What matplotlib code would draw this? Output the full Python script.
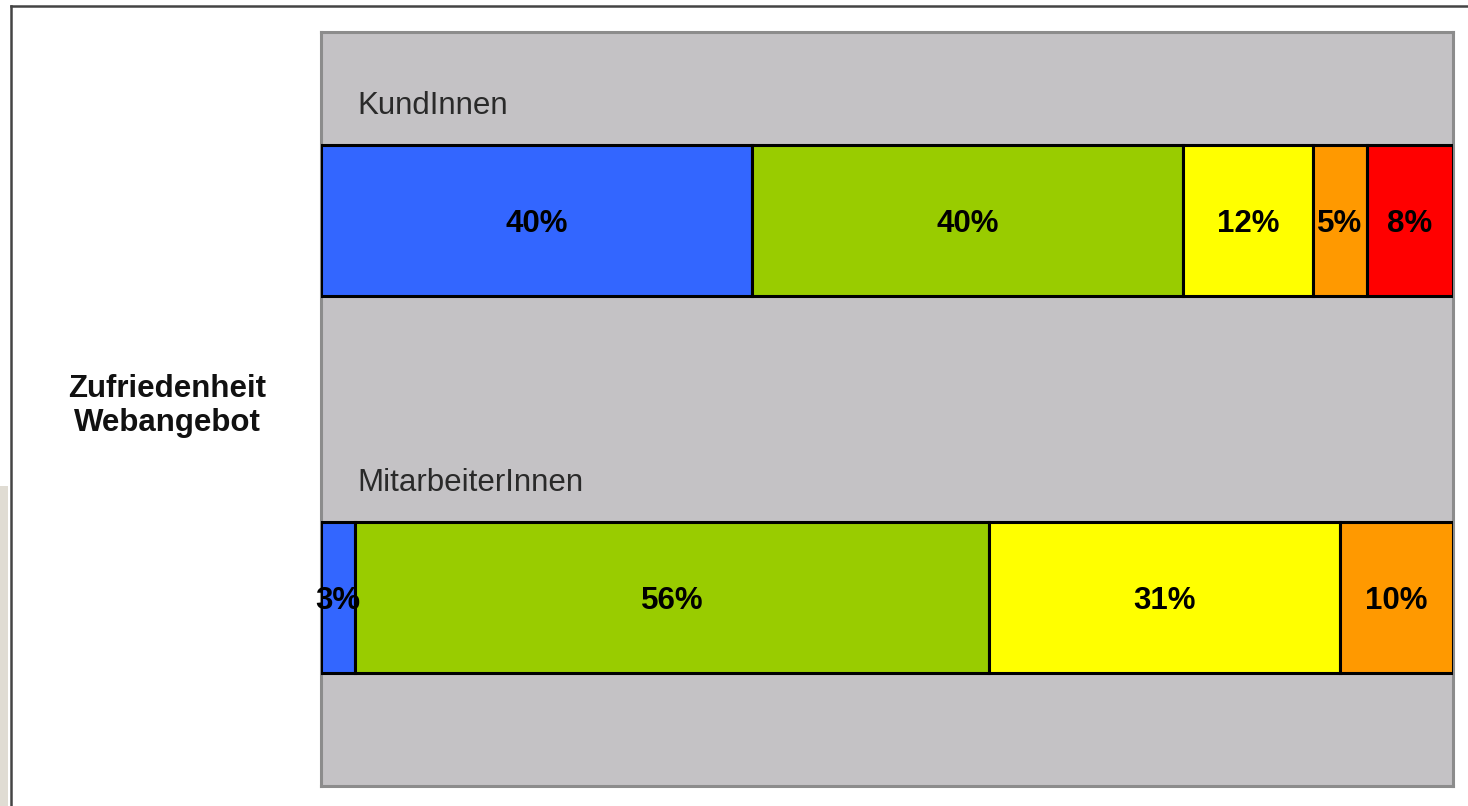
import numpy as np
import matplotlib
matplotlib.use("Agg")
import matplotlib.pyplot as plt
from matplotlib.patches import Rectangle
from matplotlib.lines import Line2D

groups = ["KundInnen", "MitarbeiterInnen"]
kunden = [40, 40, 12, 5, 8]
mitarbeiter = [3, 56, 31, 10]
seg_colors = ["#3366FF", "#99CC00", "#FFFF00", "#FF9900", "#FF0000"]
row_label = ["Zufriedenheit", "Webangebot"]

plt.rcParams["font.family"] = ["Liberation Sans", "DejaVu Sans"]

W, H = 1468, 806
fig = plt.figure(figsize=(W / 100, H / 100), dpi=100)
fig.patch.set_facecolor("white")

# outer frame (top + left) and texture strip at far left
fig.add_artist(Line2D([11 / W, 1], [1 - 6 / H, 1 - 6 / H], color="#444444", lw=1.8))
fig.add_artist(Line2D([11 / W, 11 / W], [0, 1 - 6 / H], color="#444444", lw=1.8))
fig.add_artist(Rectangle((0, 0), 8 / W, 320 / H, transform=fig.transFigure,
                         facecolor="#E0DCD3", edgecolor="none"))

ax = fig.add_axes([321 / W, 20 / H, 1132 / W, 754 / H])
ax.set_facecolor("#C4C2C5")
for sp in ax.spines.values():
    sp.set_color("#8C8C8C")
    sp.set_linewidth(2.2)

for yi, vals in enumerate([kunden, mitarbeiter]):
    vals = np.array(vals, dtype=float)
    shares = vals / vals.sum()
    left = 0.0
    for i, (v, s) in enumerate(zip(vals, shares)):
        ax.barh(yi, s, left=left, height=0.4, color=seg_colors[i],
                edgecolor="black", linewidth=2.2, zorder=3)
        ax.text(left + s / 2, yi + 0.008, f"{int(v)}%", ha="center", va="center",
                fontsize=22.5, fontweight="bold", color="black", zorder=4)
        left += s
    ax.text(0.032, yi - 0.305, groups[yi], ha="left", va="center",
            fontsize=22.5, color="#2A2A2A")

ax.set_xlim(0, 1)
ax.set_ylim(1.5, -0.5)
ax.set_xticks([])
ax.set_yticks([])

fig.text(167 / W, 1 - 397 / H, row_label[0], ha="center", va="baseline",
         fontsize=22.5, fontweight="bold", color="#111111")
fig.text(167 / W, 1 - 431 / H, row_label[1], ha="center", va="baseline",
         fontsize=22.5, fontweight="bold", color="#111111")

fig.savefig("out.png", dpi=100, facecolor="white")
